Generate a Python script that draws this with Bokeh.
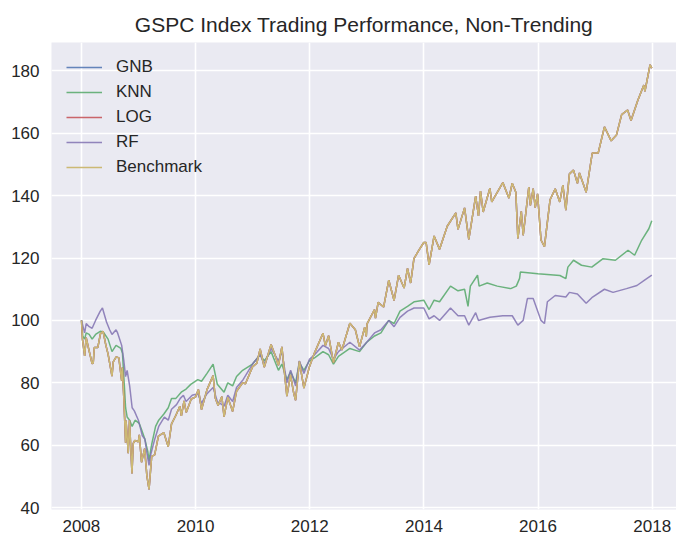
import pandas as pd
from bokeh.plotting import figure
from bokeh.models import FixedTicker, DatetimeTickFormatter, Range1d
from bokeh.embed import file_html
from bokeh.resources import INLINE

# ---------------- data ----------------
bench_dates = [
    "2008-01-02", "2008-01-08", "2008-01-22", "2008-02-01", "2008-02-15", "2008-03-10", "2008-03-17",
    "2008-03-24", "2008-04-15", "2008-05-02", "2008-05-19", "2008-06-06", "2008-06-20", "2008-07-15",
    "2008-07-23", "2008-08-11", "2008-08-28", "2008-09-15", "2008-09-19", "2008-09-29", "2008-10-10",
    "2008-10-13", "2008-10-27", "2008-11-04", "2008-11-20", "2008-11-28", "2008-12-08", "2008-12-31",
    "2009-01-06", "2009-01-20", "2009-02-09", "2009-02-23", "2009-03-09", "2009-03-26", "2009-04-14",
    "2009-05-08", "2009-06-12", "2009-07-10", "2009-07-31", "2009-08-28", "2009-09-22", "2009-10-02",
    "2009-10-19", "2009-11-02", "2009-12-04", "2009-12-31", "2010-01-19", "2010-02-08", "2010-03-15",
    "2010-04-23", "2010-05-07", "2010-05-25", "2010-06-18", "2010-07-02", "2010-07-26", "2010-08-26",
    "2010-09-20", "2010-10-29", "2010-11-16", "2010-12-31", "2011-01-28", "2011-02-18", "2011-03-16",
    "2011-04-29", "2011-05-23", "2011-06-15", "2011-07-07", "2011-08-08", "2011-08-31", "2011-09-22",
    "2011-10-03", "2011-10-27", "2011-11-25", "2011-12-30", "2012-02-01", "2012-03-26", "2012-04-10",
    "2012-05-01", "2012-06-01", "2012-07-03", "2012-07-25", "2012-09-14", "2012-10-19", "2012-11-15",
    "2012-12-18", "2012-12-28", "2013-01-02", "2013-02-19", "2013-02-25", "2013-03-14", "2013-04-18",
    "2013-05-21", "2013-06-24", "2013-07-23", "2013-08-27", "2013-09-18", "2013-10-08", "2013-10-29",
    "2013-11-27", "2013-12-31", "2014-01-15", "2014-02-03", "2014-03-07", "2014-04-11", "2014-05-30",
    "2014-07-24", "2014-08-07", "2014-09-18", "2014-10-15", "2014-11-28", "2014-12-16", "2014-12-29",
    "2015-01-15", "2015-02-27", "2015-03-11", "2015-05-21", "2015-06-29", "2015-07-20", "2015-08-12",
    "2015-08-25", "2015-09-16", "2015-09-28", "2015-11-03", "2015-11-13", "2015-12-01", "2015-12-14",
    "2015-12-29", "2016-01-20", "2016-02-11", "2016-03-18", "2016-04-20", "2016-05-19", "2016-06-08",
    "2016-06-27", "2016-07-20", "2016-08-15", "2016-09-09", "2016-09-22", "2016-11-04", "2016-12-13",
    "2017-01-20", "2017-03-01", "2017-04-13", "2017-05-17", "2017-06-19", "2017-07-27", "2017-08-18",
    "2017-09-29", "2017-11-08", "2017-11-15", "2017-12-18", "2017-12-29",
]
bench_vals = [
    100.0, 94.0, 88.6, 94.5, 91.3, 86.1, 86.4,
    91.3, 91.3, 95.7, 96.5, 92.0, 89.2, 82.1,
    86.7, 88.3, 88.0, 80.7, 84.9, 74.8, 60.8,
    67.9, 57.4, 68.0, 50.9, 60.6, 61.5, 61.1,
    63.3, 54.5, 58.9, 50.3, 45.8, 56.4, 56.9,
    62.9, 64.0, 59.5, 66.8, 69.6, 72.5, 69.4,
    74.2, 70.5, 74.8, 75.4, 77.8, 71.4, 77.8,
    82.3, 75.1, 72.7, 75.6, 69.1, 75.4, 70.8,
    77.3, 80.0, 79.7, 85.1, 86.3, 90.9, 85.0,
    92.3, 89.1, 85.6, 91.5, 75.7, 82.5, 76.4,
    74.4, 86.9, 78.3, 85.1, 89.6, 95.9, 91.9,
    95.1, 86.5, 93.0, 90.5, 99.1, 97.0, 91.5,
    97.8, 94.9, 98.9, 103.5, 100.7, 105.8, 104.3,
    112.9, 106.4, 114.5, 110.4, 116.7, 112.0, 119.8,
    122.3, 125.0, 125.0, 117.8, 127.1, 122.8, 130.2,
    134.5, 129.2, 136.1, 126.0, 139.9, 133.5, 141.5,
    134.8, 142.4, 138.0, 144.2, 139.2, 144.0, 141.1,
    126.3, 135.0, 127.3, 142.8, 136.9, 142.3, 136.2,
    140.6, 125.8, 123.7, 138.7, 142.2, 138.0, 143.4,
    135.4, 147.0, 148.2, 144.0, 147.3, 141.1, 153.7,
    153.7, 162.1, 157.6, 159.5, 166.0, 167.5, 164.1,
    170.4, 175.5, 173.5, 182.0, 180.9,
]
# GNB and LOG track the benchmark (hidden under it in the reference)
gnb_vals = bench_vals
log_vals = bench_vals

knn_dates = [
    "2008-01-02", "2008-01-10", "2008-01-22", "2008-02-01", "2008-02-20", "2008-03-10", "2008-04-01",
    "2008-05-01", "2008-05-20", "2008-06-20", "2008-07-15", "2008-08-10", "2008-09-10", "2008-09-20",
    "2008-10-01", "2008-10-10", "2008-10-20", "2008-11-05", "2008-11-21", "2008-12-10", "2009-01-05",
    "2009-01-20", "2009-02-10", "2009-03-01", "2009-03-09", "2009-03-25", "2009-04-20", "2009-05-10",
    "2009-06-12", "2009-07-10", "2009-07-31", "2009-08-28", "2009-10-01", "2009-11-01", "2009-12-01",
    "2010-01-15", "2010-02-08", "2010-03-15", "2010-04-23", "2010-05-20", "2010-07-02", "2010-07-26",
    "2010-08-26", "2010-09-20", "2010-10-29", "2010-12-31", "2011-02-18", "2011-03-16", "2011-04-29",
    "2011-06-15", "2011-07-07", "2011-08-08", "2011-09-01", "2011-10-03", "2011-10-27", "2011-11-25",
    "2011-12-30", "2012-02-01", "2012-03-26", "2012-05-01", "2012-06-01", "2012-07-03", "2012-09-14",
    "2012-11-15", "2012-12-31", "2013-02-19", "2013-04-01", "2013-05-21", "2013-06-24", "2013-08-01",
    "2013-09-18", "2013-11-01", "2013-12-31", "2014-02-03", "2014-03-07", "2014-04-11", "2014-06-20",
    "2014-08-07", "2014-09-18", "2014-10-10", "2014-10-25", "2014-12-10", "2014-12-20", "2015-02-10",
    "2015-04-15", "2015-07-10", "2015-08-15", "2015-09-05", "2015-09-10", "2015-12-31", "2016-05-20",
    "2016-06-27", "2016-07-10", "2016-08-15", "2016-10-05", "2016-12-10", "2017-02-20", "2017-05-10",
    "2017-07-30", "2017-09-10", "2017-10-25", "2017-12-10", "2017-12-29",
]
knn_vals = [
    100.0, 95.0, 94.0, 96.0, 95.5, 94.0, 95.5,
    96.5, 96.3, 94.0, 90.0, 92.0, 91.0, 89.5,
    80.0, 72.0, 69.0, 68.0, 66.0, 68.0, 67.0,
    65.0, 62.0, 58.0, 55.0, 60.0, 66.0, 68.0,
    70.0, 72.0, 75.0, 75.0, 77.0, 78.0, 79.5,
    81.0, 80.5, 83.0, 86.0, 79.5, 77.0, 80.0,
    79.0, 82.0, 84.0, 86.0, 89.0, 87.0, 90.0,
    84.0, 86.0, 81.0, 83.5, 80.0, 86.5, 84.0,
    87.0, 88.0, 90.0, 89.0, 86.0, 88.5, 91.0,
    90.0, 93.0, 95.0, 96.0, 100.0, 99.0, 103.0,
    104.5, 106.0, 106.5, 103.5, 106.5, 106.0, 111.0,
    109.5, 110.0, 104.5, 111.0, 114.5, 111.0, 112.0,
    111.0, 110.2, 111.0, 113.5, 115.5, 115.0, 114.4,
    113.4, 117.1, 119.3, 117.7, 117.1, 119.8, 119.3,
    122.5, 120.9, 125.7, 129.4, 132.0,
]

rf_dates = [
    "2008-01-02", "2008-01-22", "2008-02-01", "2008-02-20", "2008-03-10", "2008-04-01", "2008-05-01",
    "2008-05-15", "2008-06-10", "2008-06-30", "2008-07-15", "2008-08-10", "2008-08-20", "2008-09-15",
    "2008-09-29", "2008-10-10", "2008-10-20", "2008-11-05", "2008-11-21", "2008-12-05", "2008-12-31",
    "2009-01-10", "2009-01-25", "2009-02-10", "2009-02-25", "2009-03-09", "2009-03-20", "2009-04-15",
    "2009-05-10", "2009-06-15", "2009-07-10", "2009-07-31", "2009-09-01", "2009-09-25", "2009-10-15",
    "2009-11-01", "2009-12-10", "2010-01-15", "2010-02-08", "2010-03-15", "2010-04-23", "2010-05-20",
    "2010-07-02", "2010-07-26", "2010-08-26", "2010-09-20", "2010-11-01", "2010-12-31", "2011-02-18",
    "2011-03-16", "2011-04-29", "2011-06-15", "2011-07-07", "2011-08-08", "2011-09-01", "2011-10-03",
    "2011-10-27", "2011-11-25", "2011-12-30", "2012-02-01", "2012-03-26", "2012-05-01", "2012-06-01",
    "2012-07-03", "2012-09-14", "2012-11-15", "2012-12-31", "2013-02-19", "2013-04-01", "2013-05-21",
    "2013-06-24", "2013-08-01", "2013-09-18", "2013-10-30", "2013-12-31", "2014-02-03", "2014-03-07",
    "2014-04-11", "2014-06-20", "2014-08-07", "2014-09-18", "2014-10-15", "2014-11-28", "2014-12-16",
    "2015-02-27", "2015-05-21", "2015-07-20", "2015-08-25", "2015-09-28", "2015-10-25", "2015-12-01",
    "2016-01-20", "2016-02-11", "2016-03-01", "2016-04-20", "2016-06-27", "2016-07-20", "2016-09-09",
    "2016-11-04", "2016-12-15", "2017-03-01", "2017-04-25", "2017-07-20", "2017-09-25", "2017-11-15",
    "2017-12-29",
]
rf_vals = [
    100.0, 96.0, 99.0, 98.0, 97.5, 100.0, 103.0,
    104.0, 99.5, 97.0, 95.5, 97.0, 96.0, 92.0,
    87.0, 82.0, 84.0, 79.0, 72.0, 71.0, 68.0,
    66.0, 63.0, 62.0, 57.0, 53.5, 57.0, 62.0,
    66.0, 69.0, 68.0, 71.5, 73.0, 75.0, 76.0,
    74.0, 76.0, 76.5, 73.5, 76.5, 78.5, 74.0,
    72.5, 76.0, 74.0, 78.5, 81.0, 86.0, 89.0,
    86.0, 91.0, 87.0, 90.0, 80.0, 84.0, 79.0,
    87.0, 83.0, 87.5, 89.0, 92.0, 91.0, 87.5,
    90.0, 93.0, 90.5, 93.0, 96.0, 97.0, 100.0,
    98.0, 101.0, 103.0, 104.0, 104.0, 100.5, 101.5,
    100.0, 104.0, 101.5, 101.5, 98.5, 102.5, 100.0,
    101.0, 101.5, 101.5, 98.5, 100.0, 107.0, 107.0,
    100.0, 99.0, 106.0, 108.0, 107.5, 109.0, 108.5,
    105.5, 107.5, 110.0, 109.0, 110.2, 111.2, 113.0,
    114.5,
]

series_names = ["GNB", "KNN", "LOG", "RF", "Benchmark"]
series_colors = ["#4C72B0", "#55A868", "#C44E52", "#8172B2", "#CCB974"]
series_alpha = [0.85, 0.85, 0.85, 0.85, 1.0]
y_ticks = [40, 60, 80, 100, 120, 140, 160, 180]
x_tick_years = [2008, 2010, 2012, 2014, 2016, 2018]

# ---------------- figure ----------------
FONT = "Liberation Sans"
TXT = "#262626"

p = figure(
    width=676, height=535,
    frame_width=625, frame_height=467,
    min_border_left=51, min_border_right=0, min_border_top=42, min_border_bottom=26,
    x_axis_type="datetime",
    x_range=Range1d(pd.Timestamp("2007-06-24"), pd.Timestamp("2018-06-05")),
    y_range=Range1d(39.36, 189.14),
    output_backend="svg", toolbar_location=None,
    title="GSPC Index Trading Performance, Non-Trending",
)
p.background_fill_color = "#EAEAF2"
p.border_fill_color = "white"
p.outline_line_color = None

p.title.align = "center"
p.title.text_font = FONT
p.title.text_font_size = "21px"
p.title.text_font_style = "normal"
p.title.text_color = TXT
p.title.standoff = 13
p.title.offset = 3

tick_ms = [pd.Timestamp(f"{y}-01-01").value // 10**6 for y in x_tick_years]
p.xaxis.ticker = FixedTicker(ticks=tick_ms)
p.xaxis.formatter = DatetimeTickFormatter(
    milliseconds="%Y", seconds="%Y", minsec="%Y", minutes="%Y", hourmin="%Y",
    hours="%Y", days="%Y", months="%Y", years="%Y")
p.yaxis.ticker = FixedTicker(ticks=y_ticks)

for ax in (p.xaxis, p.yaxis):
    ax.axis_line_color = None
    ax.major_tick_line_color = None
    ax.minor_tick_line_color = None
    ax.major_tick_out = 0
    ax.major_tick_in = 0
    ax.major_label_text_font = FONT
    ax.major_label_text_font_size = "17px"
    ax.major_label_text_color = TXT
p.yaxis.major_label_standoff = 12
p.xaxis.major_label_standoff = 10

p.grid.grid_line_color = "white"
p.grid.grid_line_width = 1.6

all_dates = [bench_dates, knn_dates, bench_dates, rf_dates, bench_dates]
all_vals = [gnb_vals, knn_vals, log_vals, rf_vals, bench_vals]
for name, color, alpha, d, v in zip(series_names, series_colors, series_alpha, all_dates, all_vals):
    p.line(pd.to_datetime(d), v, line_color=color, line_width=1.5, line_alpha=alpha,
           legend_label=name)

lg = p.legend[0]
lg.location = "top_left"
lg.background_fill_alpha = 0
lg.border_line_alpha = 0
lg.label_text_font = FONT
lg.label_text_font_size = "17px"
lg.label_text_color = TXT
lg.glyph_width = 36
lg.glyph_height = 16
lg.label_height = 16
lg.label_standoff = 14
lg.spacing = 5
lg.margin = 4
lg.padding = 11

open("out.html", "w").write(file_html(p, INLINE))
